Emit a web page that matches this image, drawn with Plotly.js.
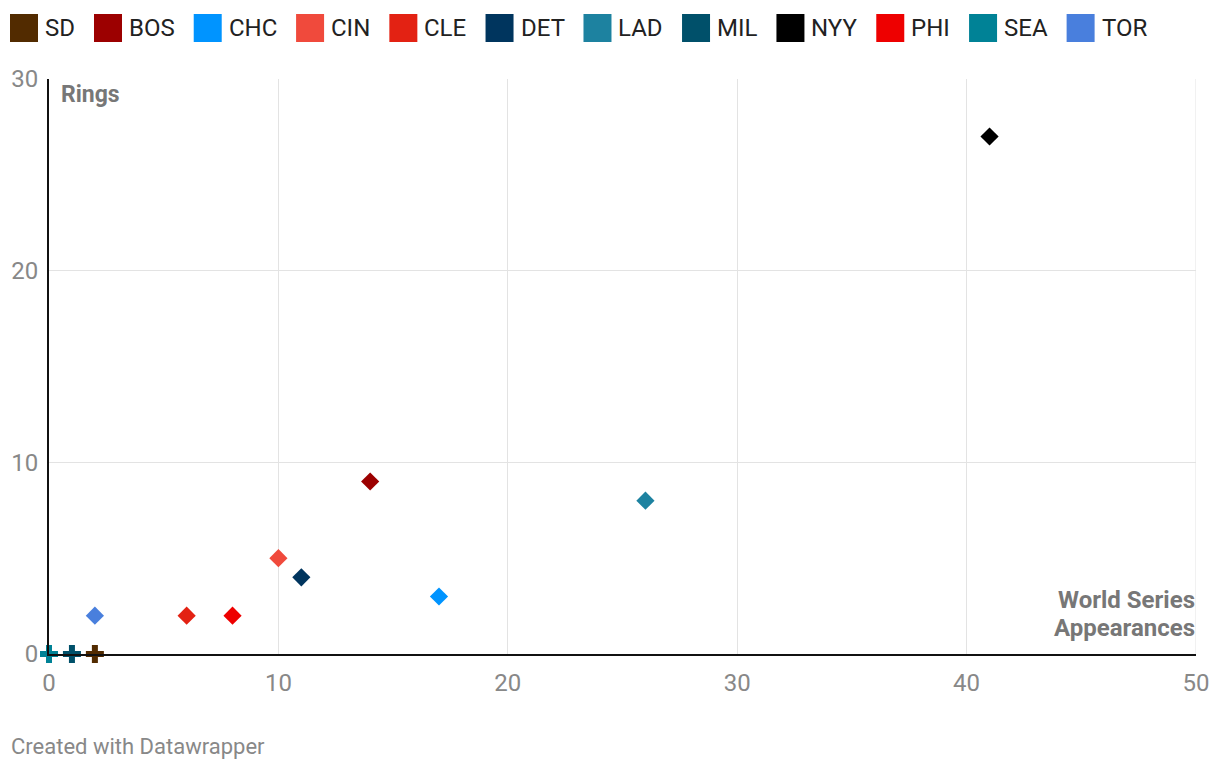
<!DOCTYPE html>
<html>
<head>
<meta charset="utf-8">
<script src="https://cdn.plot.ly/plotly-3.0.1.min.js"></script>
<style>html,body{margin:0;padding:0;background:#fff;}#chart{width:1220px;height:770px;}</style>
</head>
<body>
<div id="chart"></div>
<script>
const teams = ["SD","BOS","CHC","CIN","CLE","DET","LAD","MIL","NYY","PHI","SEA","TOR"];
const appearances = [2,14,17,10,6,11,26,1,41,8,0,2];
const rings = [0,9,3,5,2,4,8,0,27,2,0,2];
const colors = ["#522b00","#9c0000","#0094ff","#f04a3c","#e32213","#00355e","#1d82a0","#00506a","#000000","#ee0000","#008296","#497fdd"];
const xTicks = [0,10,20,30,40,50];
const yTicks = [0,10,20,30];

const FONT = "Roboto, 'Open Sans', sans-serif";
const drawOrder = [8,6,2,1,5,3,9,4,11,0,7,10];
const traces = drawOrder.map(i => ({
  type: "scatter", mode: "markers",
  x: [appearances[i]], y: [rings[i]], name: teams[i],
  marker: {color: colors[i], symbol: rings[i] === 0 ? "cross" : "diamond", size: rings[i] === 0 ? 15 : 14, line: {width: 0}},
  showlegend: false, cliponaxis: false,
  hovertemplate: teams[i] + ": %{x} appearances, %{y} rings<extra></extra>"
}));

// legend built from teams/colors
const cv = document.createElement("canvas").getContext("2d");
cv.font = "24px Roboto";
const shapes = [], annotations = [];
const L = 49, T = 79;
let px = 10;
teams.forEach((t, i) => {
  shapes.push({type: "rect", xref: "paper", yref: "paper", xsizemode: "pixel", ysizemode: "pixel",
    xanchor: 0, yanchor: 1, x0: px - L, x1: px - L + 28, y0: T - 42, y1: T - 14,
    fillcolor: colors[i], line: {width: 0}});
  annotations.push({xref: "paper", yref: "paper", x: 0, y: 1, xshift: px - L + 34, yshift: T - 28,
    xanchor: "left", yanchor: "middle", text: t, showarrow: false,
    font: {family: FONT, size: 24, color: "#222"}, borderpad: 0});
  px += 34 + cv.measureText(t).width + 20;
});
annotations.push({xref: "paper", yref: "paper", x: 0, y: 1, xshift: 11, yshift: -1, xanchor: "left", yanchor: "top",
  text: "<b>Rings</b>", showarrow: false, font: {family: FONT, size: 23, color: "#777"}, borderpad: 0});
annotations.push({xref: "paper", yref: "paper", x: 1, y: 0, xshift: 0, yshift: 54, xanchor: "right", yanchor: "middle",
  align: "right", text: "<b>World Series</b>", showarrow: false,
  font: {family: FONT, size: 24, color: "#777"}, borderpad: 0});
annotations.push({xref: "paper", yref: "paper", x: 1, y: 0, xshift: 0, yshift: 26, xanchor: "right", yanchor: "middle",
  align: "right", text: "<b>Appearances</b>", showarrow: false,
  font: {family: FONT, size: 24, color: "#777"}, borderpad: 0});
annotations.push({xref: "paper", yref: "paper", x: 0, y: 0, xshift: -39, yshift: -92, xanchor: "left", yanchor: "middle",
  text: "Created with Datawrapper", showarrow: false, font: {family: FONT, size: 22, color: "#888"}, borderpad: 0});

const layout = {
  width: 1220, height: 770,
  margin: {l: 49, r: 24, t: 79, b: 116},
  paper_bgcolor: "#fff", plot_bgcolor: "#fff",
  font: {family: FONT},
  xaxis: {range: [0, 50], tickvals: xTicks, ticktext: xTicks.map(String), showgrid: true, gridcolor: "#e3e3e3", gridwidth: 1,
    zeroline: false, showline: true, linecolor: "#111", linewidth: 2, ticks: "", ticklabelstandoff: 6,
    tickfont: {family: FONT, size: 24, color: "#888"}, fixedrange: true},
  yaxis: {range: [0, 30], tickvals: yTicks, ticktext: yTicks.map(String), showgrid: true, gridcolor: "#e3e3e3", gridwidth: 1,
    zeroline: false, showline: true, linecolor: "#111", linewidth: 2, ticks: "", ticklabelstandoff: 4,
    tickfont: {family: FONT, size: 24, color: "#888"}, fixedrange: true},
  shapes: shapes.concat([{type: "line", xref: "x", yref: "paper", x0: 50, x1: 50, y0: 0, y1: 1, line: {color: "#e3e3e3", width: 1}, layer: "below"}]),
  annotations: annotations,
  showlegend: false
};
Plotly.newPlot("chart", traces, layout, {displayModeBar: false, staticPlot: true});
</script>
</body>
</html>
